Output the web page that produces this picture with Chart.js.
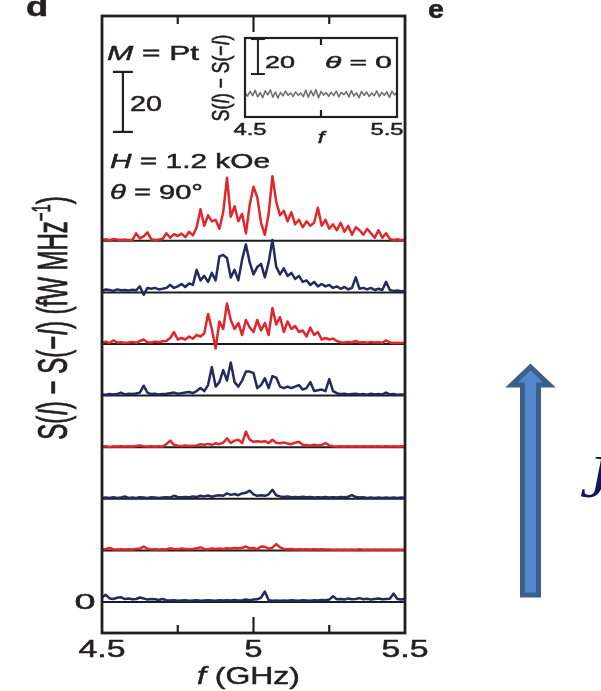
<!DOCTYPE html>
<html>
<head>
<meta charset="utf-8">
<script src="https://cdn.jsdelivr.net/npm/chart.js@4"></script>
<style>
  html, body { margin: 0; padding: 0; background: #fff; }
  #wrap { position: relative; width: 601px; height: 691px; overflow: hidden; background: #fff; }
  #mainChart { position: absolute; left: 0; top: 0; }
  #insetBox { position: absolute; left: 200px; top: 30px; width: 205px; height: 120px; }
</style>
</head>
<body>
<div id="wrap">
  <canvas id="mainChart" width="601" height="691"></canvas>
  <div id="insetBox"><canvas id="insetChart" width="205" height="120"></canvas></div>
</div>
<script>
// ============ Data ============
// frequency sampling of every spectrum (GHz)
const F_START = 4.5;
const F_STEP = 0.0125;

// S(I) - S(-I) in fW/MHz, read above each trace's own zero line; curve1 is the top trace
const curve1 = [0.3,0.5,0.2,0.6,0.4,0.3,0.4,0.3,0.2,2.5,
    0.8,1.5,2.8,0.5,0.3,0.4,0.6,2.5,1.0,2.2,
    1.6,2.4,1.2,3.0,1.8,4.5,10.5,5.0,8.5,6.5,
    7.0,4.0,9.5,21.0,8.0,11.5,6.5,9.0,2.5,12.0,
    18.0,14.5,6.0,2.0,9.0,21.5,13.0,8.5,10.0,6.5,
    9.5,5.5,7.0,4.5,6.5,5.0,6.0,11.0,5.0,7.0,
    4.0,5.5,3.5,6.0,3.0,5.0,2.0,4.5,3.5,2.0,
    4.0,2.5,1.0,3.5,1.0,2.5,0.6,0.3,0.5,0.2,0.4];
const curve2 = [0.5,1.0,0.8,0.5,1.0,0.7,0.8,0.6,0.9,0.7,
    2.0,-0.8,1.5,1.2,1.5,1.0,1.2,1.5,2.5,1.5,
    2.0,2.8,1.8,3.0,2.5,7.5,4.0,5.5,3.5,6.5,
    4.0,12.0,12.5,11.5,5.0,7.5,4.0,11.0,16.0,10.0,
    6.0,8.5,9.5,5.0,10.0,17.5,8.5,6.0,8.0,5.5,
    6.5,4.5,5.5,3.5,4.0,2.5,3.5,2.0,2.8,2.0,
    2.5,1.5,2.0,1.2,1.8,1.0,1.5,5.0,1.2,1.5,
    1.0,1.5,0.8,1.2,0.8,3.5,0.8,0.5,0.6,0.4,0.5];
const curve3 = [0.4,0.8,0.3,1.2,0.5,0.6,0.4,0.5,0.7,0.4,
    1.0,1.5,0.6,0.5,0.8,0.6,0.9,1.0,2.0,4.0,
    1.5,2.0,1.5,2.5,1.8,3.0,2.5,3.5,10.0,5.0,
    -1.5,7.5,5.0,13.5,8.0,5.0,7.0,3.0,8.0,5.5,
    4.0,8.0,4.5,7.0,3.0,12.0,6.5,9.0,4.0,7.5,
    5.0,6.0,4.0,4.5,2.5,5.5,3.0,4.0,1.5,2.0,
    1.5,1.8,1.0,0.6,0.5,0.7,0.5,1.0,0.5,0.6,
    0.4,0.7,0.5,0.6,0.4,1.2,0.5,0.3,0.4,0.3,0.4];
const curve4 = [0.4,0.3,0.5,0.4,0.5,1.0,0.4,0.6,0.5,0.7,
    1.0,3.3,1.0,0.5,0.6,0.4,0.5,0.6,0.8,1.0,
    0.6,0.8,1.0,1.2,0.8,1.5,2.5,1.5,3.5,9.5,
    3.0,4.5,8.5,5.0,11.0,4.5,3.0,5.0,8.0,8.0,
    7.5,2.5,3.5,5.8,2.5,6.5,6.0,3.0,2.5,3.0,
    2.5,3.0,3.5,2.0,2.5,4.5,1.5,1.8,2.0,1.5,
    5.5,1.5,0.8,0.5,0.6,0.4,0.5,0.6,0.4,0.5,
    0.3,0.6,0.4,0.5,0.4,1.0,0.4,0.5,0.3,0.4,0.3];
const curve5 = [0.2,0.3,0.1,0.3,0.2,0.3,0.2,0.3,0.2,0.4,
    0.6,0.3,0.2,0.3,0.2,0.3,0.2,1.0,2.2,0.8,
    0.5,0.4,0.6,0.4,0.5,0.6,1.0,0.8,1.1,0.8,
    1.3,1.0,1.5,3.0,1.4,2.2,2.5,1.4,5.2,2.5,
    1.8,2.0,1.8,2.0,1.4,2.5,1.5,1.3,1.6,1.2,
    1.0,1.5,1.8,0.8,0.7,0.5,0.8,0.6,0.7,1.4,
    0.6,0.3,0.2,0.3,0.2,0.3,0.2,0.3,0.2,0.3,
    0.2,0.3,0.2,0.3,0.2,0.3,0.2,0.3,0.2,0.3,0.2];
const curve6 = [0.3,0.4,0.3,0.5,0.3,0.4,0.8,0.3,0.4,0.3,
    0.5,0.4,0.3,0.5,0.4,0.3,0.4,0.5,0.4,1.0,
    0.6,0.5,0.6,0.5,0.8,0.6,1.0,0.8,1.1,0.7,
    1.0,1.2,1.0,1.8,1.3,1.6,1.2,1.8,2.0,2.7,
    1.5,1.0,1.2,1.0,1.5,3.0,1.2,0.8,0.6,0.8,
    0.5,0.6,0.5,0.7,0.5,0.6,0.4,0.5,0.4,0.6,
    0.4,0.5,0.4,0.6,0.5,0.7,1.2,0.6,0.4,0.5,
    0.3,0.4,0.3,0.4,0.3,0.4,0.3,0.4,0.3,0.4,0.3];
const curve7 = [0.3,0.5,0.8,0.4,0.3,0.4,0.3,0.4,0.3,0.5,
    0.6,1.3,0.6,0.3,0.4,0.3,0.4,0.3,0.7,0.5,
    0.4,0.6,0.5,0.4,0.5,0.7,1.0,0.5,0.4,0.6,
    0.5,0.6,0.5,0.7,0.6,0.8,0.7,0.9,1.3,0.7,
    0.8,0.4,1.3,1.2,0.6,0.9,2.1,1.0,0.5,0.4,
    0.5,0.3,0.4,0.3,0.4,0.3,0.4,0.3,0.4,0.3,
    0.3,0.2,0.3,0.2,0.3,0.2,0.3,0.2,0.4,0.2,
    0.3,0.2,0.3,0.2,0.3,0.2,0.3,0.2,0.3,0.2,0.3];
const curve8 = [1.5,2.4,1.2,1.0,1.4,1.6,1.0,1.2,0.9,1.0,
    1.5,1.2,0.8,1.0,0.9,0.7,1.0,0.6,0.5,0.6,
    0.4,0.5,0.6,0.4,0.5,0.6,0.4,0.5,0.6,0.5,
    0.4,0.6,0.5,0.6,0.5,0.7,0.5,0.6,0.8,0.6,
    0.8,0.9,1.5,3.5,0.6,0.4,0.5,0.4,0.5,0.4,
    0.6,0.5,0.4,0.6,0.5,0.4,0.6,0.5,0.7,0.6,
    0.8,1.9,0.9,1.0,0.8,1.2,0.9,1.0,1.3,0.9,
    1.1,0.8,1.0,1.2,0.9,1.0,1.1,2.8,1.0,0.8,1.0];

// vertical offset (fW/MHz) of each trace's zero line, curve1..curve8
const CURVE_OFFSETS = [120.4, 103.2, 86, 68.8, 51.6, 34.4, 17.2, 0];
const CURVE_KIND = ['red', 'navy', 'red', 'navy', 'red', 'navy', 'red', 'navy'];

// inset, theta = 0
const INSET_STEP = 1 / 60;
const insetCurve = [0.8,-1.2,1.5,-0.9,2.1,-1.6,0.7,-2.0,1.8,-0.5,
    2.4,-1.8,1.1,-2.3,0.9,-1.0,1.6,-0.7,0.5,-1.4,
    1.2,-0.8,0.6,-1.5,2.2,-1.9,1.9,-1.1,2.5,-2.2,
    1.4,-0.6,0.8,-1.3,1.0,-0.9,1.7,-1.6,0.9,-0.4,
    1.3,-1.7,2.0,-1.2,0.7,-2.1,1.5,-0.8,1.1,-1.4,
    0.6,-1.0,1.8,-1.5,0.9,-0.7,1.2,-1.9,1.6,-0.5,0.8];

// axis ticks
const X_MAJOR = [4.5, 5, 5.5];
const X_MINOR = [4.75, 5.25];
const Y_LABELS = [0];
const INSET_TICKS = [5];
const INSET_LABELS = [4.5, 5.5];
const SCALE_BAR = 20;

// ============ Style ============
const INK = '#231f20';
const FAMILY = "'Liberation Sans', Arial, Helvetica, sans-serif";
const COLORS = { red: '#e1272c', navy: '#24295e', base: '#1c1c1c', inset: '#707070' };

// ============ Helpers ============
const toPoints = (vals, offset, step) => vals.map((v, i) => ({ x: F_START + i * step, y: v + offset }));

function line(ctx, x1, y1, x2, y2) {
    ctx.beginPath();
    ctx.moveTo(x1, y1);
    ctx.lineTo(x2, y2);
    ctx.stroke();
}

// draws text made of styled runs; width = wanted width (horizontal stretch), or sx
function drawRuns(ctx, runs, x, y, o) {
    const fontOf = r => `${r.italic ? 'italic ' : ''}${r.bold ? 'bold ' : ''}${o.size * (r.scale || 1)}px ${o.family || FAMILY}`;
    const weight = o.weight === undefined ? 0.5 : o.weight;
    let w = 0;
    runs.forEach(r => { ctx.font = fontOf(r); r.w = ctx.measureText(r.t).width; w += r.w; });
    const sx = o.width ? o.width / w : (o.sx || 1);
    ctx.save();
    ctx.fillStyle = o.color || INK;
    ctx.strokeStyle = o.color || INK;
    if (weight > 0) ctx.lineWidth = weight;
    ctx.translate(x, y);
    ctx.scale(sx, 1);
    if (o.rotate) ctx.rotate(-Math.PI / 2);
    ctx.textAlign = 'left';
    ctx.textBaseline = 'alphabetic';
    let cx = o.align === 'center' ? -w / 2 : 0;
    runs.forEach(r => {
        ctx.font = fontOf(r);
        const ty = (r.dy || 0) * o.size;
        ctx.fillText(r.t, cx, ty);
        if (weight > 0) ctx.strokeText(r.t, cx, ty);
        cx += r.w;
    });
    ctx.restore();
}

function scaleBar(ctx, xs, ys, f, from, half) {
    const px = xs.getPixelForValue(f);
    const y1 = ys.getPixelForValue(from), y2 = ys.getPixelForValue(from + SCALE_BAR);
    line(ctx, px, y1, px, y2);
    line(ctx, px - half, y1, px + half, y1);
    line(ctx, px - half, y2, px + half, y2);
}

// ============ Main panel decoration ============
const mainDecor = {
    id: 'mainDecor',
    afterDraw(chart) {
        const { ctx, chartArea: a, scales: { x, y } } = chart;
        ctx.save();
        ctx.strokeStyle = INK;
        ctx.lineCap = 'butt';

        // frame and inward ticks
        ctx.lineWidth = 2.8;
        ctx.strokeRect(a.left, a.top, a.right - a.left, a.bottom - a.top);
        ctx.lineWidth = 2.2;
        [...X_MAJOR, ...X_MINOR].forEach(v => {
            if (v === 4.5 || v === 5.5) return;
            const px = x.getPixelForValue(v);
            const len = X_MAJOR.includes(v) ? 16 : 8;
            line(ctx, px, a.top, px, a.top + len);
            line(ctx, px, a.bottom, px, a.bottom - len);
        });

        // tick labels
        X_MAJOR.forEach(v => {
            const label = String(v);
            drawRuns(ctx, [{ t: label }], x.getPixelForValue(v), a.bottom + 24,
                { size: 23, width: label.length > 1 ? 47 : 18, align: 'center' });
        });
        Y_LABELS.forEach(v => {
            drawRuns(ctx, [{ t: String(v) }], a.left - 17, y.getPixelForValue(v) + 7,
                { size: 22, width: 21, align: 'center' });
        });

        // axis titles
        drawRuns(ctx, [{ t: 'f', italic: true }, { t: ' (GHz)' }], 197, 684, { size: 24, width: 103 });
        drawRuns(ctx, [
            { t: 'S(' }, { t: 'I', italic: true }, { t: ') \u2212 S(\u2212' }, { t: 'I', italic: true },
            { t: ') (fW MHz' }, { t: '\u22121', scale: 0.62, dy: -0.4 }, { t: ')' }
        ], 67, 318, { size: 24, sx: 1.75, rotate: true, align: 'center' });

        // scale bar and annotations
        ctx.lineWidth = 2.2;
        scaleBar(ctx, x, y, 4.569, 156.7, 10);
        drawRuns(ctx, [{ t: '20' }], 130, 111, { size: 22, width: 32 });
        drawRuns(ctx, [{ t: 'M', italic: true }, { t: ' = Pt' }], 107, 60, { size: 21, width: 92 });
        drawRuns(ctx, [{ t: 'H', italic: true }, { t: ' = 1.2 kOe' }], 110, 168, { size: 21, width: 160 });
        drawRuns(ctx, [{ t: '\u03b8', italic: true }, { t: ' = 90\u00b0' }], 110, 199, { size: 21, width: 93 });

        // cut-off panel letters
        drawRuns(ctx, [{ t: 'd', bold: true }], 26, 16, { size: 28, sx: 1.3 });
        drawRuns(ctx, [{ t: 'e', bold: true }], 428, 18, { size: 26, sx: 1.1 });

        // current direction arrow
        ctx.beginPath();
        ctx.moveTo(530.5, 367);
        ctx.lineTo(549.5, 385);
        ctx.lineTo(538.5, 385);
        ctx.lineTo(538.5, 595);
        ctx.lineTo(522.5, 595);
        ctx.lineTo(522.5, 385);
        ctx.lineTo(511.5, 385);
        ctx.closePath();
        ctx.fillStyle = '#5289cc';
        ctx.fill();
        ctx.strokeStyle = '#3b5e8d';
        ctx.lineWidth = 5;
        ctx.lineJoin = 'miter';
        ctx.stroke();
        drawRuns(ctx, [{ t: 'J', italic: true }], 580, 497,
            { size: 62, sx: 1.1, weight: 0, family: "'Liberation Serif', 'DejaVu Serif', serif", color: '#15155e' });
        ctx.restore();
    }
};

// ============ Inset decoration ============
const insetDecor = {
    id: 'insetDecor',
    afterDraw(chart) {
        const { ctx, chartArea: a, scales: { x, y } } = chart;
        ctx.save();
        ctx.strokeStyle = INK;
        ctx.lineWidth = 2.2;
        ctx.strokeRect(a.left, a.top, a.right - a.left, a.bottom - a.top);
        INSET_TICKS.forEach(v => {
            const px = x.getPixelForValue(v);
            line(ctx, px, a.top, px, a.top + 7);
            line(ctx, px, a.bottom, px, a.bottom - 7);
        });
        INSET_LABELS.forEach(v => {
            drawRuns(ctx, [{ t: String(v) }], x.getPixelForValue(v) + (v < 5 ? 5 : -10), a.bottom + 18,
                { size: 16, width: 33, align: 'center' });
        });
        drawRuns(ctx, [{ t: 'f', italic: true }], x.getPixelForValue(5), a.bottom + 26, { size: 17, sx: 1.4, align: 'center' });
        drawRuns(ctx, [
            { t: 'S(' }, { t: 'I', italic: true }, { t: ') \u2212 S(\u2212' }, { t: 'I', italic: true }, { t: ')' }
        ], 29, 48, { size: 17.5, sx: 1.4, rotate: true, align: 'center' });
        ctx.lineWidth = 2;
        scaleBar(ctx, x, y, 4.585, 11.4, 7);
        drawRuns(ctx, [{ t: '20' }], 65, 38, { size: 17, width: 30 });
        drawRuns(ctx, [{ t: '\u03b8', italic: true }, { t: ' = 0' }], 125, 38, { size: 17, width: 67 });
        ctx.restore();
    }
};

// ============ Charts ============
const curves = [curve1, curve2, curve3, curve4, curve5, curve6, curve7, curve8];

const baselineSets = CURVE_OFFSETS.map(off => ({
    data: [{ x: 4.5, y: off }, { x: 5.5, y: off }],
    borderColor: COLORS.base,
    borderWidth: 2,
    order: 2
}));

const curveSets = curves.map((vals, i) => ({
    data: toPoints(vals, CURVE_OFFSETS[i], F_STEP),
    borderColor: COLORS[CURVE_KIND[i]],
    borderWidth: 2.5,
    order: 1
}));

const commonOptions = {
    responsive: false,
    animation: false,
    events: [],
    elements: { point: { radius: 0 }, line: { tension: 0, borderJoinStyle: 'round', fill: false } },
    plugins: { legend: { display: false }, tooltip: { enabled: false } }
};

new Chart(document.getElementById('mainChart'), {
    type: 'line',
    data: { datasets: [...curveSets, ...baselineSets] },
    options: {
        ...commonOptions,
        layout: { padding: { left: 102, right: 196, top: 16, bottom: 58 } },
        scales: {
            x: { type: 'linear', min: 4.5, max: 5.5, display: false },
            y: { min: -10.33, max: 195.33, display: false }
        }
    },
    plugins: [mainDecor]
});

new Chart(document.getElementById('insetChart'), {
    type: 'line',
    data: {
        datasets: [{
            data: toPoints(insetCurve, 0, INSET_STEP),
            borderColor: COLORS.inset,
            borderWidth: 1.6
        }]
    },
    options: {
        ...commonOptions,
        layout: { padding: { left: 45, right: 8, top: 8, bottom: 33 } },
        scales: {
            x: { type: 'linear', min: 4.5, max: 5.5, display: false },
            y: { min: -13.14, max: 32, display: false }
        }
    },
    plugins: [insetDecor]
});
</script>
</body>
</html>
